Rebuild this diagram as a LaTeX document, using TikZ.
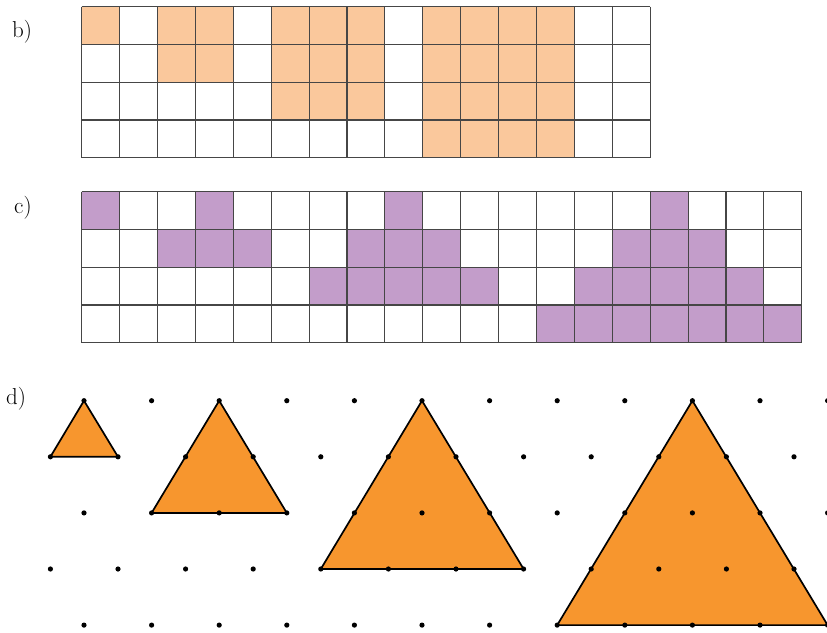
\documentclass[tikz,border=0pt]{standalone}
\definecolor{peach}{RGB}{250,200,156}
\definecolor{lilac}{RGB}{195,157,202}
\definecolor{tri}{RGB}{247,150,46}
\definecolor{gridc}{RGB}{70,70,70}
\begin{document}
\begin{tikzpicture}[x=1pt,y=-1pt,
  gridline/.style={draw=gridc,line width=1.1pt},
  lbl/.style={font=\fontsize{23}{27}\selectfont,anchor=base west,inner sep=0pt},
  trishape/.style={fill=tri,draw=black,line width=1.7pt,line join=round},
  dotmark/.style={fill=black}]
\useasboundingbox (0,0) rectangle (827,632);
\def\cw{37.9}\def\ch{37.75}
% labels
\node[lbl] (lb) at (12,37) {b)};
\node[lbl] (lc) at (14,213) {c)};
\node[lbl] (ld) at (6,404) {d)};
% grid b
\foreach \r/\c in {0/0,0/2,0/3,0/5,0/6,0/7,0/9,0/10,0/11,0/12,
                   1/2,1/3,1/5,1/6,1/7,1/9,1/10,1/11,1/12,
                   2/5,2/6,2/7,2/9,2/10,2/11,2/12,
                   3/9,3/10,3/11,3/12}
  \fill[peach] ({81.7+\c*\cw},{6.7+\r*\ch}) rectangle ++(\cw,\ch);
\foreach \i in {0,...,15}
  \draw[gridline] ({81.7+\i*\cw},6.7) -- ++(0,{4*\ch});
\foreach \j in {0,...,4}
  \draw[gridline] (81.7,{6.7+\j*\ch}) -- ++({15*\cw},0);
% grid c
\foreach \r/\c in {0/0,0/3,0/8,0/15,
                   1/2,1/3,1/4,1/7,1/8,1/9,1/14,1/15,1/16,
                   2/6,2/7,2/8,2/9,2/10,2/13,2/14,2/15,2/16,2/17,
                   3/12,3/13,3/14,3/15,3/16,3/17,3/18}
  \fill[lilac] ({81.7+\c*\cw},{191.7+\r*\ch}) rectangle ++(\cw,\ch);
\foreach \i in {0,...,19}
  \draw[gridline] ({81.7+\i*\cw},191.7) -- ++(0,{4*\ch});
\foreach \j in {0,...,4}
  \draw[gridline] (81.7,{191.7+\j*\ch}) -- ++({19*\cw},0);
% lattice points
\foreach \r in {0,...,4}{
  \pgfmathsetmacro\xo{84-33.6*mod(\r,2)}
  \foreach \k in {0,...,11}
    \coordinate (p-\r-\k) at ({\xo+67.6*\k},{400.7+56.1*\r});
}
% triangles
\draw[trishape] (p-0-0) -- (p-1-1) -- (p-1-0) -- cycle;
\draw[trishape] (p-0-2) -- (p-2-3) -- (p-2-1) -- cycle;
\draw[trishape] (p-0-5) -- (p-3-7) -- (p-3-4) -- cycle;
\draw[trishape] (p-0-9) -- (p-4-11) -- (p-4-7) -- cycle;
% dots
\foreach \r in {0,...,4}
  \foreach \k in {0,...,11}
    \fill[dotmark] (p-\r-\k) circle (2.6);
\end{tikzpicture}
\end{document}
